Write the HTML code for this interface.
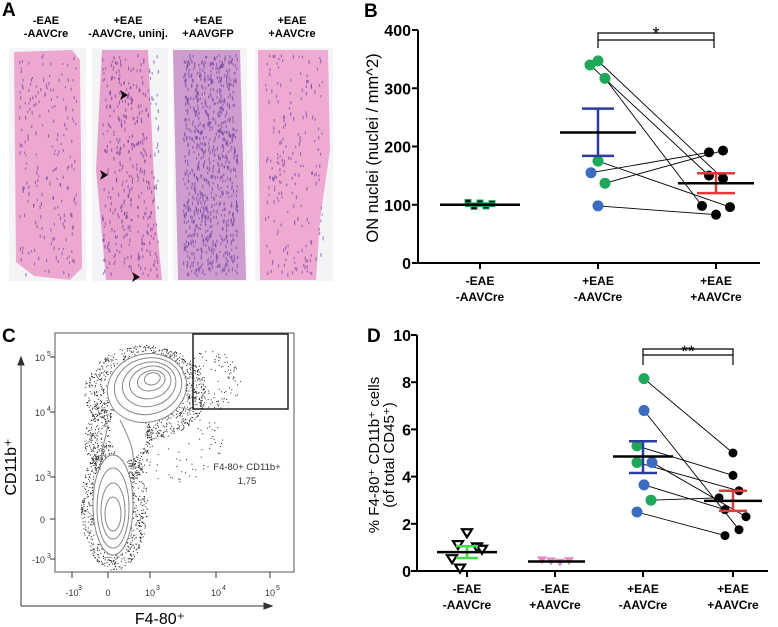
<!DOCTYPE html>
<html><head><meta charset="utf-8">
<style>
body{margin:0;background:#fff;}
svg{display:block;font-family:"Liberation Sans",Arial,sans-serif;}
.b{font-weight:bold;}
</style></head><body>
<svg id="fig" width="778" height="627" viewBox="0 0 778 627">
<g id="panelA">
<text x="2" y="16" class="b" font-size="19">A</text>
<g font-size="11" class="b" text-anchor="middle">
<text x="46" y="24">-EAE</text><text x="46" y="37">-AAVCre</text>
<text x="128" y="24">+EAE</text><text x="128" y="37">-AAVCre, uninj.</text>
<text x="208" y="24">+EAE</text><text x="208" y="37">+AAVGFP</text>
<text x="292" y="24">+EAE</text><text x="292" y="37">+AAVCre</text>
</g>
<g id="tiles"></g>
</g>
<g id="panelB"></g>
<g id="panelC"></g>
<g id="panelD"></g>
</svg>
<script>
// ---- Panel B data ----
const bCats=["-EAE|-AAVCre","+EAE|-AAVCre","+EAE|+AAVCre"];
const bG1=[104,97,103,98,102];
const bG2=[340,347,317,175,155,137,98];
const bG2Col=["g","g","g","g","b","g","b"];
const bG3=[190,193,150,145,98,83,96];
const bPairs=[[0,2],[1,3],[2,4],[3,6],[4,0],[5,1],[6,5]];
const bMeans=[100,224,137];
const bSemLo=[98,184,120];
const bSemHi=[102,265,154];
const bTicks=[0,100,200,300,400];
// ---- Panel D data ----
const dCats=["-EAE|-AAVCre","-EAE|+AAVCre","+EAE|-AAVCre","+EAE|+AAVCre"];
const dG1=[1.6,1.1,1.0,0.9,0.5,0.1];
const dG2=[0.45,0.4,0.35,0.42];
const dG3=[8.15,6.8,5.3,4.6,4.6,3.65,3.0,2.5];
const dG3Col=["g","b","g","g","b","b","g","b"];
const dG4=[5.0,4.05,3.4,3.1,2.6,2.3,1.75,1.5];
const dPairs=[[0,0],[1,6],[2,1],[3,2],[4,5],[5,4],[6,3],[7,7]];
const dMeans=[0.8,0.4,4.85,2.97];
const dSemLo=[0.55,0.35,4.15,2.55];
const dSemHi=[1.05,0.45,5.5,3.4];
const dTicks=[0,2,4,6,8,10];

const NS="http://www.w3.org/2000/svg";
function mk(p,t,a){const e=document.createElementNS(NS,t);for(const k in a)e.setAttribute(k,a[k]);p.appendChild(e);return e;}
const GREEN="#1fa85a",BLUE="#3b6cc0";
let seed=7;function rnd(){seed=(seed*1103515245+12345)%2147483648;return seed/2147483648;}

// ---- Panel A tiles (texture) ----
const tiles=document.getElementById('tiles');
const tileX=[9,92,173,255],tileW=[77,76,74,78];
const tissue=["M14,52 L72,50 L80,60 L82,268 L70,280 L34,276 L16,262 Z","M102,50 L148,50 L156,220 L162,280 L106,280 L96,170 Z","M173,50 L240,50 L246,280 L178,280 Z","M258,50 L328,50 L330,150 L320,220 L316,280 L260,280 Z"];
const tint=["#eda8d0","#e8a0cc","#cf9ccf","#efaad2"];
const dens=[200,380,850,200];
for(let i=0;i<4;i++){
 const r=mk(tiles,'rect',{x:tileX[i],y:48,width:tileW[i],height:233,fill:'#f4f4f6'});
 
 
 mk(tiles,'path',{d:tissue[i],fill:tint[i]});
 for(let k=0;k<dens[i];k++){
  const x=tileX[i]+10+rnd()*(tileW[i]-20),y=54+rnd()*220;
  mk(tiles,'rect',{x:x,y:y,width:1.2,height:2+rnd()*2,fill:'#6a3e9c',opacity:0.6});
 }
}
[[128,95],[108,175],[140,277]].forEach(p=>{
 const a=mk(tiles,'path',{d:`M${p[0]},${p[1]} l-8,-5 l2,5 l-2,5 Z`,fill:'#111'});
 
 
});

function cats(g,labels,xs,y){
 labels.forEach((c,i)=>{const [a,b]=c.split('|');
  const t=mk(g,'text',{x:xs(i),y:y,'text-anchor':'middle','font-size':12,'font-weight':'bold'});
  
  
  mk(t,'tspan',{x:xs(i),dy:0}).textContent=a;
  mk(t,'tspan',{x:xs(i),dy:16}).textContent=b;});
}
function dot(g,x,y,c,r){const e=mk(g,'circle',{cx:x,cy:y,r:r,fill:c==='g'?GREEN:c==='b'?BLUE:'#000'});
 return e;}
function meanSem(g,x,m,lo,hi,ys,col,w,cw){
 const s=mk(g,'path',{d:`M${x},${ys(lo)}V${ys(hi)}M${x-cw},${ys(lo)}h${2*cw}M${x-cw},${ys(hi)}h${2*cw}`,stroke:col,'stroke-width':2.5,fill:'none'});
 
 const l=mk(g,'line',{x1:x-w,x2:x+w,y1:ys(m),y2:ys(m),stroke:'#000','stroke-width':2.5});
 
}

// ---- Panel B ----
(function(){
 const g=document.getElementById('panelB');
 const ys=v=>263-v*233/400, xc=i=>[480,598,716][i];
 mk(g,'text',{x:364,y:17,class:'b','font-size':19}).textContent='B';
 const yt=mk(g,'text',{x:0,y:0,'font-size':16.5,'text-anchor':'middle',transform:'translate(378,148) rotate(-90)'});
 yt.textContent='ON nuclei (nuclei / mm^2)';
 
 mk(g,'path',{d:`M418,${ys(400)}V263H760`,stroke:'#000','stroke-width':2,fill:'none'});
 bTicks.forEach(t=>{mk(g,'line',{x1:412,x2:418,y1:ys(t),y2:ys(t),stroke:'#000','stroke-width':2});
  const tx=mk(g,'text',{x:411,y:ys(t)+6,'text-anchor':'end','font-size':16,'font-weight':'bold'});tx.textContent=t;
  });
 [0,1,2].forEach(i=>mk(g,'line',{x1:xc(i),x2:xc(i),y1:263,y2:269,stroke:'#000','stroke-width':2}));
 cats(g,bCats,xc,285);
 const x2=[590,598,605,598,591,605,598],x3=[709,723,709,723,702,716,730];
 bPairs.forEach(p=>mk(g,'line',{x1:x2[p[0]],y1:ys(bG2[p[0]]),x2:x3[p[1]],y2:ys(bG3[p[1]]),stroke:'#000','stroke-width':0.9}));
 bG1.forEach((v,i)=>{const x=468+i*6;const e=mk(g,'rect',{x:x-3,y:ys(v)-3,width:6,height:6,fill:'#111',stroke:GREEN,'stroke-width':1});
  });
 meanSem(g,xc(0),bMeans[0],bSemLo[0],bSemHi[0],ys,GREEN,40,15);
 bG2.forEach((v,i)=>dot(g,x2[i],ys(v),bG2Col[i],5.5));
 bG3.forEach((v,i)=>dot(g,x3[i],ys(v),'k',5));
 meanSem(g,xc(1),bMeans[1],bSemLo[1],bSemHi[1],ys,'#2a3c9c',38,16);
 meanSem(g,xc(2),bMeans[2],bSemLo[2],bSemHi[2],ys,'#e03a3a',38,19);
 mk(g,'path',{d:'M598,48V33H714V48M598,40H714',stroke:'#000','stroke-width':1.2,fill:'none'});
 mk(g,'text',{x:656,y:40,'text-anchor':'middle','font-size':18}).textContent='*';
})();

// ---- Panel D ----
(function(){
 const g=document.getElementById('panelD');
 const ys=v=>571-v*23.6, xc=i=>[467,555,643,733][i];
 mk(g,'text',{x:367,y:342,class:'b','font-size':19}).textContent='D';
 const yt=mk(g,'text',{'font-size':15,'text-anchor':'middle',transform:'translate(379,455) rotate(-90)'});
 
 mk(yt,'tspan',{x:0,dy:0}).textContent='% F4-80⁺ CD11b⁺ cells';
 mk(yt,'tspan',{x:0,dy:15}).textContent='(of total CD45⁺)';
 mk(g,'path',{d:`M417,${ys(10)}V571H768`,stroke:'#000','stroke-width':2,fill:'none'});
 dTicks.forEach(t=>{mk(g,'line',{x1:411,x2:417,y1:ys(t),y2:ys(t),stroke:'#000','stroke-width':2});
  const tx=mk(g,'text',{x:411,y:ys(t)+6,'text-anchor':'end','font-size':16,'font-weight':'bold'});tx.textContent=t;
  });
 [0,1,2,3].forEach(i=>mk(g,'line',{x1:xc(i),x2:xc(i),y1:571,y2:577,stroke:'#000','stroke-width':2}));
 cats(g,dCats,xc,593);
 const x3=[644,644,637,637,652,644,651,637],x4=[733,733,739,719,725,746,739,725];
 dPairs.forEach(p=>mk(g,'line',{x1:x3[p[0]],y1:ys(dG3[p[0]]),x2:x4[p[1]],y2:ys(dG4[p[1]]),stroke:'#000','stroke-width':0.9}));
 const xg1=[467,458,477,482,452,460];
 dG1.forEach((v,i)=>{const x=xg1[i],y=ys(v);const e=mk(g,'path',{d:`M${x-5},${y-4}h10l-5,8Z`,fill:'#fff',stroke:'#000','stroke-width':2.2});
  });
 meanSem(g,xc(0),dMeans[0],dSemLo[0],dSemHi[0],ys,'#3ee04a',30,11);
 dG2.forEach((v,i)=>{const x=542+i*9,y=ys(v);const e=mk(g,'path',{d:`M${x-5},${y-4}h10l-5,8Z`,fill:'#e58ac0'});
  });
 mk(g,'line',{x1:528,x2:585,y1:ys(dMeans[1]),y2:ys(dMeans[1]),stroke:'#000','stroke-width':2.5});
 dG3.forEach((v,i)=>dot(g,x3[i],ys(v),dG3Col[i],5.5));
 dG4.forEach((v,i)=>dot(g,x4[i],ys(v),'k',4.5));
 meanSem(g,xc(2),dMeans[2],dSemLo[2],dSemHi[2],ys,'#2a3c9c',30,14);
 meanSem(g,xc(3),dMeans[3],dSemLo[3],dSemHi[3],ys,'#e03a3a',29,14);
 mk(g,'path',{d:'M643,365V349H733V365M643,355H733',stroke:'#000','stroke-width':1.2,fill:'none'});
 mk(g,'text',{x:688,y:357,'text-anchor':'middle','font-size':17}).textContent='**';
})();

// ---- Panel C (flow cytometry picture) ----
(function(){
 const g=document.getElementById('panelC');
 mk(g,'text',{x:2,y:342,class:'b','font-size':19}).textContent='C';
 const f=mk(g,'rect',{x:55,y:333,width:239,height:239,fill:'#fff',stroke:'#555','stroke-width':1});
 
 // scatter texture: clusters [cx,cy,rx,ry,n]
 const cl=[[145,392,58,45,1100],[118,440,32,40,600],[114,505,32,62,900],[210,380,30,28,120],[175,440,45,40,120]];
 cl.forEach(c=>{for(let k=0;k<c[4];k++){const a=rnd()*6.283,r=Math.pow(rnd(),0.35)*1.05;
  mk(g,'rect',{x:c[0]+Math.cos(a)*c[2]*r,y:c[1]+Math.sin(a)*c[3]*r,width:1,height:1,fill:'#222'});}});
 // white core to mimic contour interior
 mk(g,'ellipse',{cx:146,cy:388,rx:40,ry:34,fill:'#fff',transform:'rotate(-15 146 388)'});
 mk(g,'ellipse',{cx:128,cy:430,rx:18,ry:30,fill:'#fff'});
 mk(g,'ellipse',{cx:113,cy:505,rx:20,ry:50,fill:'#fff'});
 const ellU=[[40,34],[34,28],[27,22],[21,16],[14,10],[8,6]];
 ellU.forEach((e,i)=>mk(g,'ellipse',{cx:147+i*1.5,cy:388-i*1.5,rx:e[0],ry:e[1],fill:'none',stroke:'#888','stroke-width':1,transform:'rotate(-15 147 388)'}));
 const ellL=[[20,50],[16,40],[12,28],[8,17]];
 ellL.forEach((e,i)=>mk(g,'ellipse',{cx:113,cy:505+i*3,rx:e[0],ry:e[1],fill:'none',stroke:'#888','stroke-width':1}));
 mk(g,'path',{d:'M120,420 C130,440 135,450 133,470 M108,425 C105,440 100,455 100,470',stroke:'#888',fill:'none'});
 const gate=mk(g,'rect',{x:193,y:334,width:95,height:75,fill:'none',stroke:'#222','stroke-width':1.5});
 
 const gl=mk(g,'text',{x:247,y:470,'text-anchor':'middle','font-size':9.5,fill:'#333'});
 
 mk(gl,'tspan',{x:247,dy:0}).textContent='F4-80+ CD11b+';
 mk(gl,'tspan',{x:247,dy:14}).textContent='1,75';
 // axes arrows
 mk(g,'path',{d:'M21,606V362M21,357l-3,8h6zM21,606H266M272,606l-8,-3v6z',stroke:'#333','stroke-width':1,fill:'#333'});
 const yl=[["10","5",357],["10","4",412],["10","3",477],["0","",519],["-10","3",559]];
 yl.forEach(t=>{const e=mk(g,'text',{x:45,y:t[2]+4,'text-anchor':'end','font-size':9,fill:'#333'});e.textContent=t[0];
  if(t[1]){mk(g,'text',{x:47,y:t[2]-1,'font-size':7,fill:'#333'}).textContent=t[1];}
  mk(g,'line',{x1:50,x2:55,y1:t[2],y2:t[2],stroke:'#333'});});
 const xl=[["-10","3",72],["0","",108],["10","3",150],["10","4",216],["10","5",270]];
 xl.forEach(t=>{const e=mk(g,'text',{x:t[2],y:596,'text-anchor':'middle','font-size':9,fill:'#333'});e.textContent=t[0];
  if(t[1]){mk(g,'text',{x:t[2]+6,y:590,'font-size':7,fill:'#333'}).textContent=t[1];}
  mk(g,'line',{x1:t[2],x2:t[2],y1:572,y2:578,stroke:'#333'});});
 const xt=mk(g,'text',{x:160,y:624,'text-anchor':'middle','font-size':16});xt.textContent='F4-80⁺';
 
 const yt2=mk(g,'text',{'font-size':16,'text-anchor':'middle',transform:'translate(16,467) rotate(-90)'});yt2.textContent='CD11b⁺';
 
})();
</script>
</body></html>
